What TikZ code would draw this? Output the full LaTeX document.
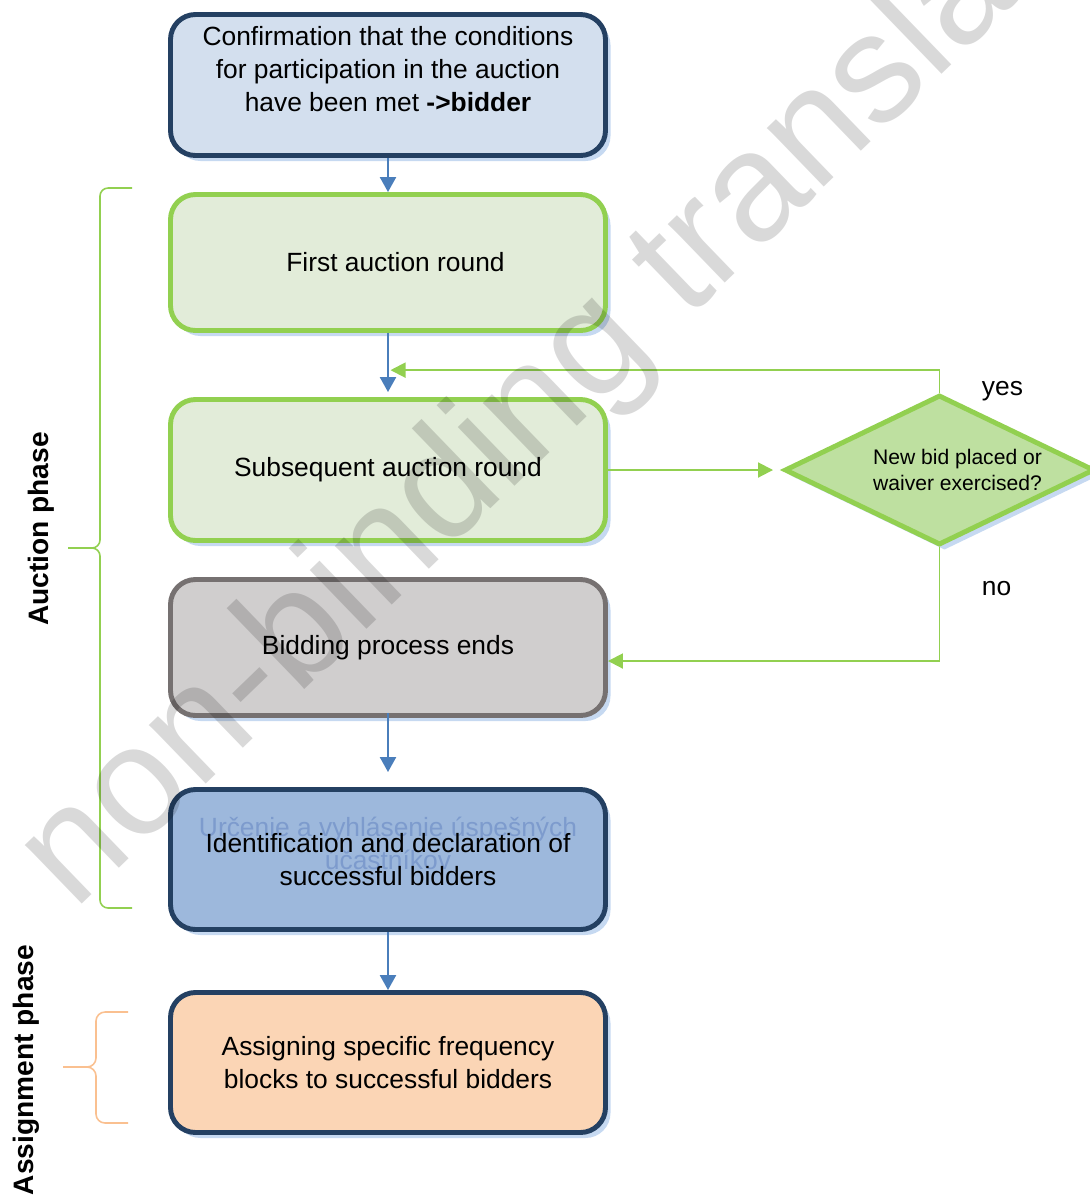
\documentclass[tikz,border=0pt]{standalone}
\usepackage{fontspec}
\setmainfont{Liberation Sans}
\usetikzlibrary{positioning,shapes.geometric,arrows.meta,shadows,calc}
\definecolor{navyline}{RGB}{36,64,98}
\definecolor{paleblue}{RGB}{211,223,238}
\definecolor{greenline}{RGB}{146,208,80}
\definecolor{palegreen}{RGB}{226,236,217}
\definecolor{greyline}{RGB}{118,113,113}
\definecolor{palegrey}{RGB}{208,206,206}
\definecolor{midblue}{RGB}{157,184,220}
\definecolor{paleorange}{RGB}{251,213,181}
\definecolor{orangeline}{RGB}{250,192,144}
\definecolor{leafgreen}{RGB}{190,224,160}
\definecolor{arrowblue}{RGB}{74,126,187}
\definecolor{shadowblue}{RGB}{198,217,241}
\definecolor{ghostblue}{RGB}{125,155,205}
\newcommand{\boxfont}{\fontsize{15pt}{18.8pt}\selectfont}
\newcommand{\askfont}{\fontsize{12pt}{15.3pt}\selectfont}
\newcommand{\phasefont}{\fontsize{16pt}{19pt}\selectfont\bfseries}

\begin{document}
\begin{tikzpicture}[
node distance={35.5mm},
roundbox/.style = {draw, rectangle, rounded corners=5mm, line width=2.8pt, minimum width=8.7cm, minimum height=2.82cm, align=center, drop shadow={fill=shadowblue, opacity=1, shadow xshift=1mm, shadow yshift=-1.1mm}},
bluenode/.style = {roundbox, draw=navyline, fill=paleblue},
greennode/.style = {roundbox, draw=greenline, fill=palegreen},
greynode/.style = {roundbox, draw=greyline, fill=palegrey},
darkbluenode/.style = {roundbox, draw=navyline, fill=midblue},
orangenode/.style = {roundbox, draw=navyline, fill=paleorange},
decisionnode/.style = {diamond, draw=greenline, fill=leafgreen, line width=2.8pt, minimum width=6.2cm, minimum height=3cm, inner sep=0pt, drop shadow={fill=shadowblue, opacity=1, shadow xshift=1mm, shadow yshift=-1.1mm}},
bluearrow/.style = {draw=arrowblue, line width=1.3pt, -{Triangle[length=3mm, width=3.2mm]}},
greenarrow/.style = {draw=greenline, line width=1.1pt, -{Triangle[length=3mm, width=3mm]}}]
\tikzstyle{every node}=[font=\boxfont]
\useasboundingbox (0,0) rectangle (21.8,-24.06);
\clip (0,0) rectangle (21.8,-24.06);
\node[bluenode] (1) at (7.76,-1.7) {Confirmation that the conditions\\ for participation in the auction\\ have been met \textbf{->bidder}\\ \mbox{}};
\node[greennode, minimum height=2.72cm] (2) [below of=1] {\hspace*{0.3cm}First auction round};
\node[greennode] (3) [below of=2, node distance=41.5mm] {Subsequent auction round};
\node[greynode, minimum height=2.72cm] (4) [below of=3] {Bidding process ends};
\node[darkbluenode, minimum height=2.8cm, text=ghostblue] (5) [below of=4, node distance=42.4mm] {Určenie a vyhlásenie úspešných\\ účastníkov\\ \mbox{}};
\node[align=center] (10) at (5.center) {Identification and declaration of\\ successful bidders};
\node[orangenode, minimum height=2.8cm] (6) [below of=5, node distance=40.6mm] {Assigning specific frequency\\ blocks to successful bidders};
\node[decisionnode] (7) [right of=3, node distance=110.3mm] {};
\node[font=\askfont, align=center] (11) at ([xshift=3.6mm]7.center) {New bid placed or\\ waiver exercised?};
\node (8) at ([shift={(1.26,0.02)}]7.north) {yes};
\node (9) at ([shift={(1.14,-0.82)}]7.south) {no};
\coordinate (12) at ($(2.south)!0.58!(3.north)$);
\draw[bluearrow] (1) -- (2);
\draw[bluearrow, shorten >=1mm] (2) -- (3);
\draw[greenarrow, shorten >=1.8mm] (3) -- (7);
\draw[greenarrow, shorten >=0.5mm] (7) |- (12);
\draw[greenarrow] (7) |- ([yshift=-2.7mm]4.east);
\draw[bluearrow, shorten <=-1mm, shorten >=3mm] (4) -- (5);
\draw[bluearrow] (5) -- (6);
\draw[greenline, line width=0.9pt] (2.64,-3.76) -- (2.16,-3.76) to[out=180,in=90] (2,-3.92) -- (2,-10.8) to[out=-90,in=0] (1.84,-10.96) -- (1.36,-10.96) -- (1.84,-10.96) to[out=0,in=90] (2,-11.12) -- (2,-18) to[out=-90,in=180] (2.16,-18.16) -- (2.64,-18.16);
\draw[orangeline, line width=0.9pt] (2.56,-20.24) -- (2.1,-20.24) to[out=180,in=90] (1.92,-20.42) -- (1.92,-21.16) to[out=-90,in=0] (1.74,-21.34) -- (1.26,-21.34) -- (1.74,-21.34) to[out=0,in=90] (1.92,-21.52) -- (1.92,-22.28) to[out=-90,in=180] (2.1,-22.46) -- (2.56,-22.46);
\node[font=\phasefont, rotate=90] (13) at (0.82,-10.58) {Auction phase};
\node[font=\phasefont, rotate=90] (14) at (0.52,-21.4) {Assignment phase};
\node[rotate=44, font=\fontsize{88pt}{88pt}\selectfont, text=black, text opacity=0.15] (15) at (12.2,-6.78) {non-binding translation};
\end{tikzpicture}
\end{document}
